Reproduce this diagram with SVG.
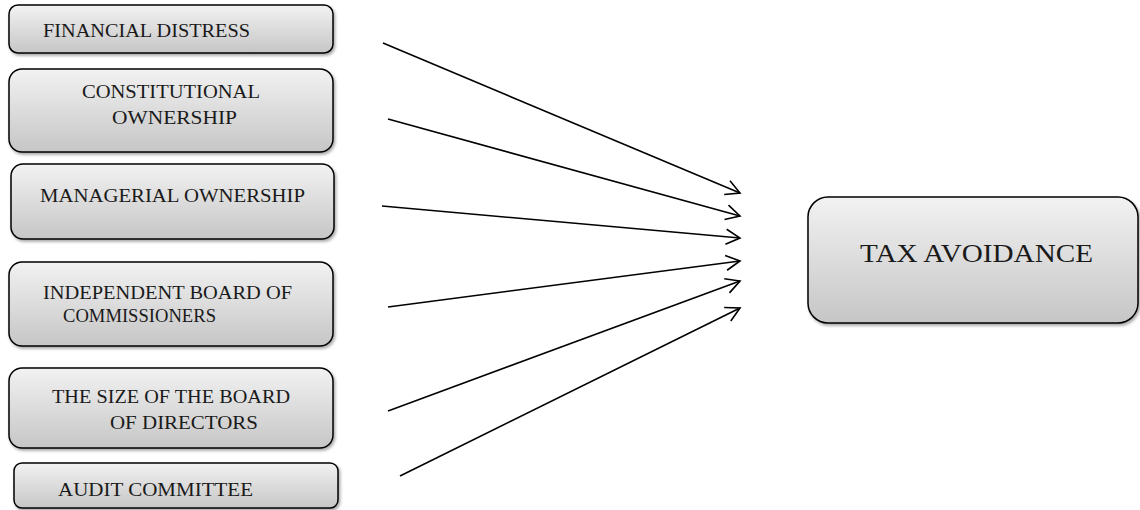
<svg xmlns="http://www.w3.org/2000/svg" width="1140" height="510" viewBox="0 0 1140 510">
<style>
.box{fill:url(#g);stroke:#000;stroke-width:1.5;filter:url(#sh)}
.t{font-family:"Liberation Serif","Times New Roman",serif;font-size:18px;fill:#1a1a1a}
.big{font-size:26px}
.c{stroke:#000;stroke-width:1.6;fill:none;marker-end:url(#ah)}
</style>
<defs>
<linearGradient id="g" x1="0" y1="0" x2="0" y2="1">
<stop offset="0" stop-color="#f2f2f2"/>
<stop offset="1" stop-color="#c6c6c6"/>
</linearGradient>
<filter id="sh" x="-5%" y="-10%" width="115%" height="130%">
<feDropShadow dx="1.5" dy="2" stdDeviation="1.5" flood-color="#000" flood-opacity="0.35"/>
</filter>
<marker id="ah" markerUnits="userSpaceOnUse" markerWidth="20" markerHeight="20" refX="16" refY="10" orient="auto">
<path d="M2,2.5 L16,10 L2,17.5" fill="none" stroke="#000" stroke-width="1.6"/>
</marker>
</defs>
<g id="n1"><rect class="box" x="9" y="5" width="324" height="48" rx="9"/><text class="t" x="43" y="37" textLength="207" lengthAdjust="spacingAndGlyphs">FINANCIAL DISTRESS</text></g>
<g id="n2"><rect class="box" x="9" y="69" width="324" height="83" rx="13"/><text class="t" x="82" y="98" textLength="178" lengthAdjust="spacingAndGlyphs">CONSTITUTIONAL</text><text class="t" x="112" y="124" textLength="125" lengthAdjust="spacingAndGlyphs">OWNERSHIP</text></g>
<g id="n3"><rect class="box" x="11" y="164" width="323" height="75" rx="12"/><text class="t" x="40" y="202" textLength="265" lengthAdjust="spacingAndGlyphs">MANAGERIAL OWNERSHIP</text></g>
<g id="n4"><rect class="box" x="9" y="262" width="324" height="84" rx="13"/><text class="t" x="43" y="299" textLength="249" lengthAdjust="spacingAndGlyphs">INDEPENDENT BOARD OF</text><text class="t" x="63" y="322" textLength="153" lengthAdjust="spacingAndGlyphs">COMMISSIONERS</text></g>
<g id="n5"><rect class="box" x="9" y="368" width="324" height="80" rx="13"/><text class="t" x="52" y="403" textLength="238" lengthAdjust="spacingAndGlyphs">THE SIZE OF THE BOARD</text><text class="t" x="110" y="429" textLength="148" lengthAdjust="spacingAndGlyphs">OF DIRECTORS</text></g>
<g id="n6"><rect class="box" x="14" y="463" width="324" height="45" rx="8"/><text class="t" x="58" y="496" textLength="195" lengthAdjust="spacingAndGlyphs">AUDIT COMMITTEE</text></g>
<g id="n7"><rect class="box" x="808" y="197" width="330" height="126" rx="20"/><text class="t big" x="860" y="262" textLength="233" lengthAdjust="spacingAndGlyphs">TAX AVOIDANCE</text></g>
<g id="connectors">
<line class="c" x1="383" y1="43" x2="740" y2="193"/>
<line class="c" x1="388" y1="119" x2="740" y2="216"/>
<line class="c" x1="382" y1="206" x2="740" y2="238"/>
<line class="c" x1="388" y1="307" x2="740" y2="261"/>
<line class="c" x1="388" y1="411" x2="740" y2="281"/>
<line class="c" x1="400" y1="476" x2="740" y2="308"/>
</g>
</svg>
